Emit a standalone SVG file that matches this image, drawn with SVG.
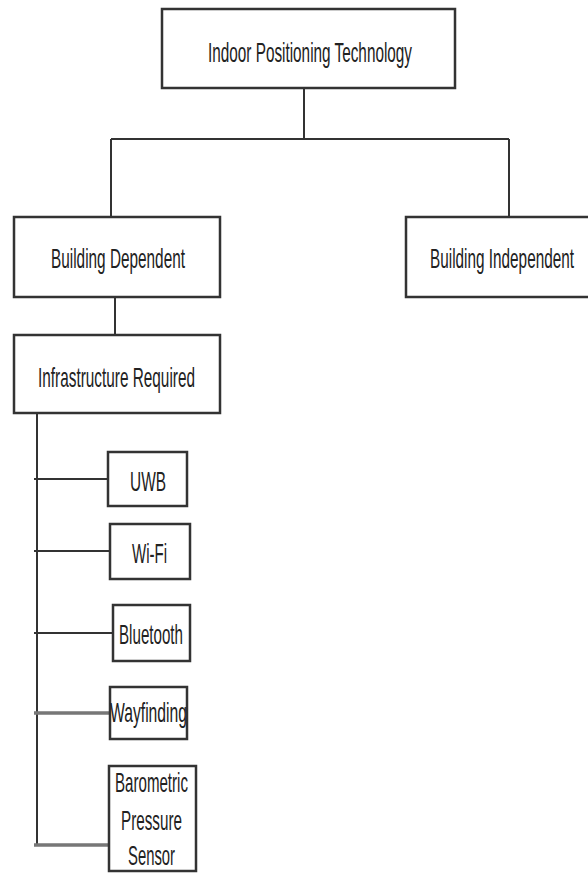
<svg xmlns="http://www.w3.org/2000/svg" width="588" height="873" viewBox="0 0 588 873">
<style>
.box{fill:#fff;stroke:#333;stroke-width:2.5}
.t{font-family:"Liberation Sans",Arial,sans-serif;font-size:28px;fill:#222;text-anchor:start}
.c{fill:none;stroke:#333;stroke-width:2}
.cg{fill:none;stroke:#777;stroke-width:3.5}
</style>
<rect width="588" height="873" fill="#fff"/>
<g id="connectors">
<path class="c" d="M304 88V139M111 139H509M111 139V237M509 139V217M115 297V348M37 413V845"/>
<path class="c" d="M34 479H108M34 551H110M34 633H113"/>
<path class="cg" d="M34 713H110M34 845H109"/>
</g>
<g id="n-root"><rect class="box" x="162" y="9" width="293" height="79"/><text class="t" x="208" y="62" textLength="204" lengthAdjust="spacingAndGlyphs">Indoor Positioning Technology</text></g>
<g id="n-dep"><rect class="box" x="14" y="217" width="206" height="80"/><text class="t" x="51" y="268" textLength="134" lengthAdjust="spacingAndGlyphs">Building Dependent</text></g>
<g id="n-indep"><rect class="box" x="406" y="217" width="190" height="80"/><text class="t" x="430" y="268" textLength="144" lengthAdjust="spacingAndGlyphs">Building Independent</text></g>
<g id="n-infra"><rect class="box" x="14" y="335" width="206" height="78"/><text class="t" x="38" y="387" textLength="157" lengthAdjust="spacingAndGlyphs">Infrastructure Required</text></g>
<g id="n-uwb"><rect class="box" x="108" y="452" width="79" height="54"/><text class="t" x="130" y="491" textLength="36" lengthAdjust="spacingAndGlyphs">UWB</text></g>
<g id="n-wifi"><rect class="box" x="110" y="524" width="80" height="55"/><text class="t" x="132" y="563" textLength="35" lengthAdjust="spacingAndGlyphs">Wi-Fi</text></g>
<g id="n-bt"><rect class="box" x="113" y="605" width="77" height="56"/><text class="t" x="119" y="644" textLength="64" lengthAdjust="spacingAndGlyphs">Bluetooth</text></g>
<g id="n-way"><rect class="box" x="110" y="687" width="77" height="52"/><text class="t" x="110" y="722" textLength="77" lengthAdjust="spacingAndGlyphs">Wayfinding</text></g>
<g id="n-baro"><rect class="box" x="109" y="766" width="87" height="105"/><text class="t" x="115" y="792" textLength="73" lengthAdjust="spacingAndGlyphs">Barometric</text><text class="t" x="121" y="830" textLength="61" lengthAdjust="spacingAndGlyphs">Pressure</text><text class="t" x="128" y="865" textLength="47" lengthAdjust="spacingAndGlyphs">Sensor</text></g>
</svg>
